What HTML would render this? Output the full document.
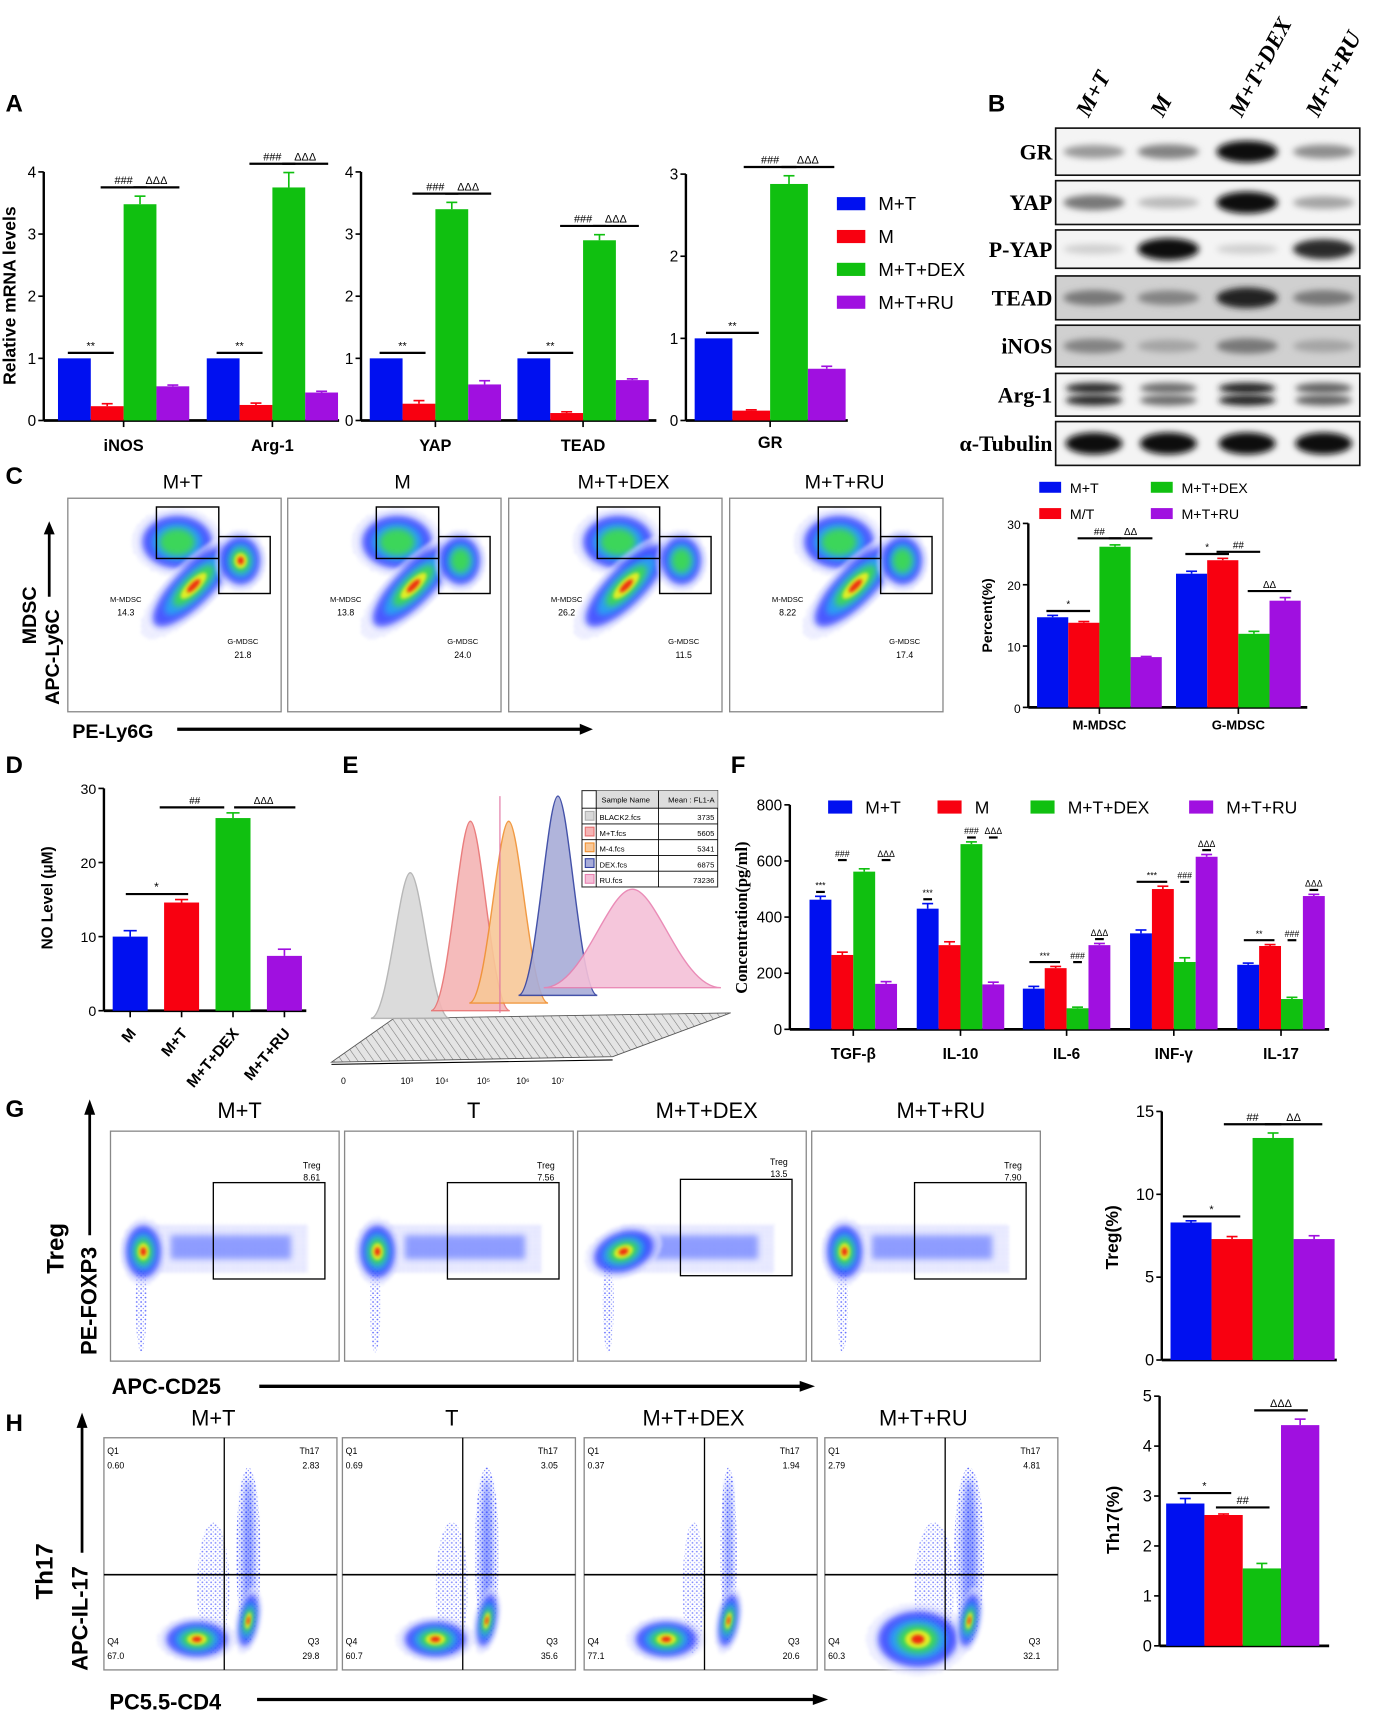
<!DOCTYPE html>
<html><head><meta charset="utf-8">
<style>
html,body{margin:0;padding:0;background:#fff;}
svg{display:block;font-family:"Liberation Sans",Arial,sans-serif;}
</style></head>
<body>
<svg id="fig" xmlns="http://www.w3.org/2000/svg" width="1374" height="1717" viewBox="0 0 1256 1568" preserveAspectRatio="none">
<defs>
<filter id="blur3" x="-50%" y="-50%" width="200%" height="200%"><feGaussianBlur stdDeviation="3"/></filter>
<filter id="blur6" x="-50%" y="-50%" width="200%" height="200%"><feGaussianBlur stdDeviation="6"/></filter>
<filter id="blur2" x="-50%" y="-50%" width="200%" height="200%"><feGaussianBlur stdDeviation="1.5"/></filter>
<pattern id="dots" width="4" height="4" patternUnits="userSpaceOnUse"><rect width="4" height="4" fill="#fff"/><circle cx="1" cy="1" r="0.8" fill="#2030ff"/><circle cx="3" cy="3" r="0.6" fill="#4050ff"/></pattern>
<pattern id="floor" width="6" height="6" patternUnits="userSpaceOnUse" patternTransform="rotate(-35)"><rect width="6" height="6" fill="#e4e4e4"/><line x1="0" y1="0" x2="0" y2="6" stroke="#777" stroke-width="1"/></pattern>
</defs>
<g id="root"></g>
</svg>
<script>
const NS='http://www.w3.org/2000/svg';
const root=document.getElementById('root');
const COL=['#0010f0','#f80010','#10c010','#a010e0'];

// ---------- Data ----------
const aCats1=['iNOS','Arg-1'];
const aVals1=[[1,0.23,3.48,0.55],[1,0.25,3.75,0.45]];
const aErr1=[[0,0.04,0.13,0.02],[0,0.03,0.24,0.02]];
const aCats2=['YAP','TEAD'];
const aVals2=[[1,0.27,3.4,0.58],[1,0.12,2.9,0.65]];
const aErr2=[[0,0.05,0.11,0.06],[0,0.02,0.09,0.02]];
const aCats3=['GR'];
const aVals3=[[1,0.12,2.88,0.63]];
const aErr3=[[0,0.01,0.1,0.03]];
const aTicks4=[0,1,2,3,4];
const aTicks3=[0,1,2,3];
const groupNames=['M+T','M','M+T+DEX','M+T+RU'];

const blotRows=['GR','YAP','P-YAP','TEAD','iNOS','Arg-1','α-Tubulin'];
const blotIntensity=[[0.35,0.45,1.0,0.4],[0.5,0.2,1.0,0.3],[0.1,1.0,0.1,0.85],[0.5,0.45,0.9,0.5],[0.45,0.3,0.5,0.3],[0.85,0.55,0.9,0.6],[1,1,1,1]];

const cCats=['M-MDSC','G-MDSC'];
const cVals=[[14.7,13.8,26.2,8.2],[21.8,24.0,12.0,17.4]];
const cErr=[[0.3,0.2,0.3,0.1],[0.4,0.3,0.4,0.5]];
const cTicks=[0,10,20,30];
const cFlowTitles=['M+T','M','M+T+DEX','M+T+RU'];
const cMM=['14.3','13.8','26.2','8.22'];
const cGM=['21.8','24.0','11.5','17.4'];

const dCats=['M','M+T','M+T+DEX','M+T+RU'];
const dVals=[10,14.6,26,7.4];
const dErr=[0.8,0.4,0.7,0.9];
const dTicks=[0,10,20,30];

const eNames=['BLACK2.fcs','M+T.fcs','M-4.fcs','DEX.fcs','RU.fcs'];
const eMeans=['3735','5605','5341','6875','73236'];
const ePeakX=[375,430,465,510,578];
const ePeakTop=[797,750,750,727,812];
const eColors=['#d8d8d8','#f4b4b4','#f8c898','#a8acd8','#f4c0d8'];
const eStroke=['#b0b0b0','#e87070','#f09030','#3040a0','#e880b0'];

const fCats=['TGF-β','IL-10','IL-6','INF-γ','IL-17'];
const fVals=[[462,265,562,162],[430,300,660,160],[145,218,75,300],[342,500,240,615],[230,297,108,475]];
const fErr=[[12,10,10,8],[18,12,8,8],[8,6,4,6],[12,10,15,8],[6,5,6,6]];
const fTicks=[0,200,400,600,800];

const gTitles=['M+T','T','M+T+DEX','M+T+RU'];
const gTreg=['8.61','7.56','13.5','7.90'];
const gVals=[8.3,7.3,13.4,7.3];
const gErr=[0.1,0.15,0.3,0.2];
const gTicks=[0,5,10,15];

const hTitles=['M+T','T','M+T+DEX','M+T+RU'];
const hQ1=['0.60','0.69','0.37','2.79'];
const hTh=['2.83','3.05','1.94','4.81'];
const hQ4=['67.0','60.7','77.1','60.3'];
const hQ3=['29.8','35.6','20.6','32.1'];
const hVals=[2.85,2.62,1.55,4.42];
const hErr=[0.1,0.02,0.1,0.12];
const hTicks=[0,1,2,3,4,5];

// ---------- helpers ----------
function mk(tag,attrs,parent){const e=document.createElementNS(NS,tag);for(const k in attrs)e.setAttribute(k,attrs[k]);(parent||root).appendChild(e);return e;}
function txt(s,x,y,opt,parent){opt=opt||{};const t=mk('text',{x:x,y:y,'font-size':opt.size||14,'text-anchor':opt.anchor||'middle','font-weight':opt.weight||'normal','fill':opt.fill||'#000'},parent);if(opt.family)t.setAttribute('font-family',opt.family);if(opt.style)t.setAttribute('font-style',opt.style);if(opt.rot!==undefined)t.setAttribute('transform','rotate('+opt.rot+' '+x+' '+y+')');t.textContent=s;return t;}
function line(x1,y1,x2,y2,w,parent,col){return mk('line',{x1:x1,y1:y1,x2:x2,y2:y2,stroke:col||'#000','stroke-width':w||1},parent);}

function barChart(o){
  const g=mk('g',{});
  
  
  const yS=v=>o.y0-v/o.max*(o.y0-o.yTop);
  line(o.ax,o.yTop,o.ax,o.y0,2.2,g);
  line(o.ax,o.y0,o.xEnd,o.y0,2.5,g);
  o.ticks.forEach(t=>{line(o.ax-5,yS(t),o.ax,yS(t),1.5,g);const lb=txt(String(t),o.ax-7,yS(t)+5,{size:o.tsize||14,anchor:'end'},g);});
  o.vals.forEach((gv,gi)=>{
    const x0=o.gx[gi];
    gv.forEach((v,bi)=>{
      const x=x0+bi*o.bw;
      const r=mk('rect',{x:x,y:yS(v),width:o.bw,height:o.y0-yS(v),fill:COL[bi]},g);
      
      
      const e=o.err?o.err[gi][bi]:0;
      if(e>0){const cx=x+o.bw/2;line(cx,yS(v),cx,yS(v+e),1.5,g,COL[bi]);line(cx-5,yS(v+e),cx+5,yS(v+e),1.5,g,COL[bi]);}
    });
    if(o.cats&&o.showCats!==false){const cx=x0+o.bw*2;line(cx,o.y0,cx,o.y0+6,1.5,g);const lb=txt(o.cats[gi],cx,o.labY,{size:o.lsize||15,weight:'bold'},g);}
    if(o.sig&&o.sig[gi]){o.sig[gi].forEach(s=>{
      const a=s[0],b=s[1];const top=Math.max(gv[a]+(o.err?o.err[gi][a]:0),gv[b]+(o.err?o.err[gi][b]:0),s[3]!==undefined?gv[s[3]]+(o.err?o.err[gi][s[3]]:0):0);
      const ly=yS(top)-(s[4]||6);const xa=x0+a*o.bw+o.bw*0.3,xb=x0+b*o.bw+o.bw*0.7;
      line(xa,ly,xb,ly,2,g);txt(s[2],(xa+xb)/2,ly-3,{size:o.ssize||10},g);
    });}
  });
  return {g:g,yS:yS};
}

function blob(cx,cy,rx,ry,rot,parent,core){
  const g=mk('g',{transform:'translate('+cx+' '+cy+') rotate('+rot+')'},parent);
  mk('ellipse',{cx:0,cy:0,rx:rx*1.3,ry:ry*1.3,fill:'url(#dots)',opacity:0.6,filter:'url(#blur2)'},g);
  mk('ellipse',{cx:0,cy:0,rx:rx,ry:ry,fill:'#1828ff',opacity:0.75,filter:'url(#blur3)'},g);
  mk('ellipse',{cx:0,cy:0,rx:rx*0.72,ry:ry*0.72,fill:'#20b0f0',opacity:0.8,filter:'url(#blur3)'},g);
  mk('ellipse',{cx:0,cy:0,rx:rx*0.5,ry:ry*0.5,fill:'#40e040',opacity:0.85,filter:'url(#blur3)'},g);
  if(core){mk('ellipse',{cx:0,cy:0,rx:rx*0.32,ry:ry*0.32,fill:'#f0f020',opacity:0.9,filter:'url(#blur2)'},g);
  mk('ellipse',{cx:0,cy:0,rx:rx*0.16,ry:ry*0.16,fill:'#f02010',opacity:0.95,filter:'url(#blur2)'},g);}
  return g;
}
function panelLetter(s,x,y){const t=txt(s,x,y,{size:22,weight:'bold',anchor:'start'});}

// ---------- Panel A ----------
panelLetter('A',5,102);
const sigA=[[[0,1,'**',undefined,5],[1,2,'###',undefined,8],[2,3,'ΔΔΔ',2,8]],[[0,1,'**',undefined,5],[1,2,'###',undefined,8],[2,3,'ΔΔΔ',2,8]]];
barChart({name:'chart-a-inos-arg1',ax:40,y0:384,yTop:157,max:4,ticks:aTicks4,xEnd:310,gx:[53,189],bw:30,vals:aVals1,err:aErr1,cats:aCats1,labY:412,sig:sigA});
barChart({name:'chart-a-yap-tead',ax:330,y0:384,yTop:157,max:4,ticks:aTicks4,xEnd:600,gx:[338,473],bw:30,vals:aVals2,err:aErr2,cats:aCats2,labY:412,sig:sigA});
barChart({name:'chart-a-gr',ax:627,y0:384,yTop:159,max:3,ticks:aTicks3,xEnd:775,gx:[635],bw:34.5,vals:aVals3,err:aErr3,cats:aCats3,labY:409,sig:[sigA[0]]});
{const t=txt('Relative mRNA levels',14,270,{size:16,weight:'bold',rot:-90});}
groupNames.forEach((n,i)=>{const y=180+i*30;const r=mk('rect',{x:765,y:y,width:26,height:12,fill:COL[i]});const t=txt(n,803,y+12,{size:17,anchor:'start'});});

// ---------- Panel B blots ----------
panelLetter('B',903,102);
const laneX=[1000,1068,1140,1210];
groupNames.forEach((n,i)=>{const t=txt(n,laneX[i]-5,108,{size:21,weight:'bold',style:'italic',family:'"Liberation Serif",serif',anchor:'start',rot:-62});});
const blotY=[[117,160],[165,205],[210,245],[252,292],[297,335],[341,380],[385,425]];
blotRows.forEach((r,ri)=>{
  const g=mk('g',{});
  
  
  const y1=blotY[ri][0],y2=blotY[ri][1],cy=(y1+y2)/2;
  const bg=(r==='TEAD'||r==='iNOS')?'#d0d0d0':'#f4f4f4';
  mk('rect',{x:965,y:y1,width:278,height:y2-y1,fill:bg,stroke:'#111','stroke-width':1.5},g);
  blotIntensity[ri].forEach((v,li)=>{
    const gray=Math.round(230-v*220);
    if(r==='Arg-1'){
      mk('ellipse',{cx:laneX[li],cy:cy-6,rx:26,ry:5,fill:'rgb('+gray+','+gray+','+gray+')',filter:'url(#blur3)'},g);
      mk('ellipse',{cx:laneX[li],cy:cy+5,rx:26,ry:5,fill:'rgb('+gray+','+gray+','+gray+')',filter:'url(#blur3)'},g);
    } else {
      mk('ellipse',{cx:laneX[li],cy:cy,rx:r==='α-Tubulin'?26:28,ry:r==='α-Tubulin'?10:(4+v*6),fill:'rgb('+gray+','+gray+','+gray+')',filter:'url(#blur3)'},g);
    }
  });
  txt(r,962,cy+7,{size:20,weight:'bold',family:'"Liberation Serif",serif',anchor:'end'},g);
});

// ---------- Panel C flow ----------
panelLetter('C',5,442);
const cBoxX=[62,263,465,667];
cBoxX.forEach((bx,i)=>{
  const g=mk('g',{});
  
  
  txt(cFlowTitles[i],bx+105,446,{size:18},g);
  mk('rect',{x:bx,y:455,width:195,height:195,fill:'#fff',stroke:'#888','stroke-width':1.2},g);
  const sh=(i===2)?-15:0;
  blob(bx+100,495,32,24,0,g,false);
  blob(bx+115+sh/2,535,50,17,-45,g,true);
  blob(bx+158,512,18,22,0,g,i===0);
  mk('rect',{x:bx+81,y:463,width:57,height:47,fill:'none',stroke:'#000','stroke-width':1.3},g);
  mk('rect',{x:bx+138,y:490,width:47,height:52,fill:'none',stroke:'#000','stroke-width':1.3},g);
  txt('M-MDSC',bx+53,550,{size:7},g);txt(cMM[i],bx+53,562,{size:8},g);
  txt('G-MDSC',bx+160,588,{size:7},g);txt(cGM[i],bx+160,601,{size:8},g);
});
line(45,545,45,486,2.5);mk('path',{d:'M40,488 L45,476 L50,488 Z',fill:'#000'});
txt('MDSC',33,562,{size:18,weight:'bold',rot:-90});
txt('APC-Ly6C',54,600,{size:18,weight:'bold',rot:-90});
txt('PE-Ly6G',66,674,{size:18,weight:'bold',anchor:'start'});
line(162,666,532,666,3);mk('path',{d:'M530,661 L542,666 L530,671 Z',fill:'#000'});

const cLegend=['M+T','M/T','M+T+DEX','M+T+RU'];
[[950,440],[950,464],[1052,440],[1052,464]].forEach((p,i)=>{const r=mk('rect',{x:p[0],y:p[1],width:20,height:10,fill:COL[i]});const t=txt(cLegend[i],p[0]+28,p[1]+10,{size:13,anchor:'start'});});
barChart({name:'chart-c-mdsc',ax:940,y0:646,yTop:478,max:30,ticks:cTicks,xEnd:1195,gx:[948,1075],bw:28.5,vals:cVals,err:cErr,cats:cCats,labY:666,lsize:12,tsize:11,ssize:9,sig:[[[0,1,'*',undefined,4],[1,2,'##',undefined,6],[2,3,'ΔΔ',2,6]],[[0,1,'*',undefined,4],[1,2,'##',undefined,6],[2,3,'ΔΔ',undefined,6]]]});
txt('Percent(%)',907,562,{size:13,weight:'bold',rot:-90});

// ---------- Panel D ----------
panelLetter('D',5,706);
{const r=barChart({name:'chart-d-no-level',ax:95,y0:923,yTop:720,max:30,ticks:dTicks,xEnd:280,gx:[103],bw:47,vals:[dVals],err:[dErr],showCats:false,tsize:13});
 r.g.querySelectorAll('rect').forEach(x=>x.remove());
 r.g.querySelectorAll('line').forEach((x,i)=>{if(i>5)x.remove();});
 dVals.forEach((v,i)=>{const x=103+i*47;const rr=mk('rect',{x:x,y:r.yS(v),width:32,height:923-r.yS(v),fill:COL[i]},r.g);
  const cx=x+16;line(cx,r.yS(v),cx,r.yS(v+dErr[i]),1.5,r.g,COL[i]);line(cx-6,r.yS(v+dErr[i]),cx+6,r.yS(v+dErr[i]),1.5,r.g,COL[i]);
  line(cx,923,cx,929,1.5,r.g);txt(dCats[i],cx+6,944,{size:14,weight:'bold',anchor:'end',rot:-50},r.g);});
 const sy1=r.yS(dVals[1]+dErr[1])-5;line(115,sy1,172,sy1,2,r.g);txt('*',143,sy1-3,{size:11},r.g);
 const sy2=r.yS(dVals[2]+dErr[2])-5;line(146,sy2,205,sy2,2,r.g);txt('##',178,sy2-3,{size:9},r.g);
 line(214,sy2,270,sy2,2,r.g);txt('ΔΔΔ',241,sy2-3,{size:9},r.g);
}
txt('NO Level (μM)',48,820,{size:14,weight:'bold',rot:-90});

// ---------- Panel E ----------
panelLetter('E',313,706);
{const g=mk('g',{});
 
 
 mk('polygon',{points:'303,970 560,965 668,925 360,930',fill:'url(#floor)',stroke:'#555','stroke-width':0.8},g);
 ePeakX.forEach((px,i)=>{
   const base=930-i*7, top=ePeakTop[i], hw=(i===4)?45:20;
   const d='M'+(px-hw*1.8)+','+base+' C'+(px-hw)+','+base+' '+(px-hw*0.5)+','+top+' '+px+','+top+' C'+(px+hw*0.5)+','+top+' '+(px+hw)+','+base+' '+(px+hw*1.8)+','+base+' Z';
   const p=mk('path',{d:d,fill:eColors[i],stroke:eStroke[i],'stroke-width':1.3,opacity:0.9},g);
   
   
 });
 line(457,727,457,925,1,g,'#e070a0');
 ['0','10³','10⁴','10⁵','10⁶','10⁷'].forEach((s,i)=>txt(s,[314,372,404,442,478,510][i],990,{size:8},g));
 line(303,972,560,968,1,g);
 const tx=532,ty=722;
 mk('rect',{x:tx,y:ty,width:124,height:88,fill:'#fff',stroke:'#333','stroke-width':1},g);
 mk('rect',{x:tx+13,y:ty,width:111,height:16,fill:'#ddd'},g);
 txt('Sample Name',tx+40,ty+11,{size:7},g);txt('Mean : FL1-A',tx+100,ty+11,{size:7},g);
 line(tx+13,ty,tx+13,ty+88,0.8,g);line(tx+70,ty,tx+70,ty+88,0.8,g);
 eNames.forEach((n,i)=>{const y=ty+16+i*14.4;line(tx,y,tx+124,y,0.8,g);
  mk('rect',{x:tx+3,y:y+3,width:8,height:8,fill:eColors[i],stroke:eStroke[i]},g);
  txt(n,tx+16,y+11,{size:7,anchor:'start'},g);txt(eMeans[i],tx+121,y+11,{size:7,anchor:'end'},g);});
}

// ---------- Panel F ----------
panelLetter('F',668,706);
barChart({name:'chart-f-cytokines',ax:722,y0:940,yTop:735,max:800,ticks:fTicks,xEnd:1215,gx:[740,838,935,1033,1131],bw:20,vals:fVals,err:fErr,cats:fCats,labY:967,lsize:14,tsize:14,ssize:8,
 sig:[[[0,0,'***',undefined,4],[1,1,'###',2,8],[3,3,'ΔΔΔ',2,8]],[[0,0,'***',undefined,4],[2,2,'###',undefined,4],[3,3,'ΔΔΔ',2,4]],[[0,1,'***',undefined,4],[2,2,'###',1,4],[3,3,'ΔΔΔ',undefined,4]],[[0,1,'***',undefined,4],[2,2,'###',1,4],[3,3,'ΔΔΔ',undefined,4]],[[0,1,'**',undefined,4],[2,2,'###',1,4],[3,3,'ΔΔΔ',undefined,4]]]});
groupNames.forEach((n,i)=>{const x=[757,857,942,1087][i];const r=mk('rect',{x:x,y:731,width:22,height:12,fill:COL[i]});const t=txt(n,x+34,743,{size:16,anchor:'start'});});
txt('Concentration(pg/ml)',683,838,{size:15,weight:'bold',family:'"Liberation Serif",serif',rot:-90});

// ---------- Panel G ----------
panelLetter('G',5,1020);
const gBoxX=[101,315,528,742];
gBoxX.forEach((bx,i)=>{
  const g=mk('g',{});
  
  
  txt(gTitles[i],bx+118,1021,{size:20},g);
  mk('rect',{x:bx,y:1033,width:209,height:210,fill:'#fff',stroke:'#888','stroke-width':1.2},g);
  mk('rect',{x:bx+40,y:1118,width:140,height:44,fill:'url(#dots)',opacity:0.8,filter:'url(#blur2)'},g);
  mk('rect',{x:bx+55,y:1128,width:110,height:22,fill:'#2040ff',opacity:0.45,filter:'url(#blur3)'},g);
  mk('ellipse',{cx:bx+28,cy:1190,rx:5,ry:45,fill:'url(#dots)',opacity:0.7},g);
  blob(bx+30+(i===2?12:0),1143,i===2?28:16,i===2?18:24,i===2?-20:0,g,true);
  const gy=(i===2)?1077:1080;
  mk('rect',{x:bx+94,y:gy,width:102,height:88,fill:'none',stroke:'#000','stroke-width':1.2},g);
  txt('Treg',bx+184,gy-13,{size:8},g);txt(gTreg[i],bx+184,gy-2,{size:8},g);
});
line(82,1128,82,1016,2.5);mk('path',{d:'M77,1018 L82,1004 L87,1018 Z',fill:'#000'});
txt('Treg',58,1140,{size:22,weight:'bold',rot:-90});
txt('PE-FOXP3',88,1188,{size:20,weight:'bold',rot:-90});
txt('APC-CD25',102,1273,{size:20,weight:'bold',anchor:'start'});
line(237,1266,733,1266,3);mk('path',{d:'M731,1261 L745,1266 L731,1271 Z',fill:'#000'});
barChart({name:'chart-g-treg',ax:1062,y0:1242,yTop:1015,max:15,ticks:gTicks,xEnd:1222,gx:[1070],bw:37.5,vals:[gVals],err:[gErr],showCats:false,tsize:15,ssize:10,sig:[[[0,1,'*',undefined,4],[1,2,'##',undefined,8],[2,3,'ΔΔ',2,8]]]});
txt('Treg(%)',1022,1130,{size:16,weight:'bold',rot:-90});

// ---------- Panel H ----------
panelLetter('H',5,1307);
const hBoxX=[95,313,534,754];
hBoxX.forEach((bx,i)=>{
  const g=mk('g',{});
  
  
  txt(hTitles[i],bx+100+(i===3?-10:0),1302,{size:20},g);
  mk('rect',{x:bx,y:1313,width:213,height:212,fill:'#fff',stroke:'#888','stroke-width':1.2},g);
  const vx=bx+110;
  const st=(i===2)?0.5:(i===3?1.2:0.9);
  mk('ellipse',{cx:vx+22,cy:1420,rx:9*st+3,ry:80,fill:'url(#dots)',opacity:0.8},g);
  mk('ellipse',{cx:vx+22,cy:1420,rx:6*st,ry:70,fill:'#2040ff',opacity:0.5,filter:'url(#blur3)'},g);
  mk('ellipse',{cx:vx-10,cy:1450,rx:12*st+4,ry:60,fill:'url(#dots)',opacity:0.6},g);
  blob(vx-25+(i===2?-10:0),1497,28*(i===3?1.3:1),16*(i===3?1.6:1),0,g,true);
  blob(vx+22,1480,8,24,10,g,true);
  line(bx,1438,bx+213,1438,1.5,g);
  line(vx,1313,vx,1525,1.2,g);
  txt('Q1',bx+3,1328,{size:8,anchor:'start'},g);txt(hQ1[i],bx+3,1341,{size:8,anchor:'start'},g);
  txt('Th17',bx+197,1328,{size:8,anchor:'end'},g);txt(hTh[i],bx+197,1341,{size:8,anchor:'end'},g);
  txt('Q4',bx+3,1502,{size:8,anchor:'start'},g);txt(hQ4[i],bx+3,1515,{size:8,anchor:'start'},g);
  txt('Q3',bx+197,1502,{size:8,anchor:'end'},g);txt(hQ3[i],bx+197,1515,{size:8,anchor:'end'},g);
});
line(75,1418,75,1302,2.5);mk('path',{d:'M70,1304 L75,1290 L80,1304 Z',fill:'#000'});
txt('Th17',48,1435,{size:22,weight:'bold',rot:-90});
txt('APC-IL-17',80,1478,{size:20,weight:'bold',rot:-90});
txt('PC5.5-CD4',100,1561,{size:20,weight:'bold',anchor:'start'});
line(235,1552,745,1552,3);mk('path',{d:'M743,1547 L757,1552 L743,1557 Z',fill:'#000'});
barChart({name:'chart-h-th17',ax:1060,y0:1503,yTop:1275,max:5,ticks:hTicks,xEnd:1215,gx:[1066],bw:35,vals:[hVals],err:[hErr],showCats:false,tsize:15,ssize:10,sig:[[[0,1,'*',undefined,5],[1,2,'##',undefined,6],[2,3,'ΔΔΔ',3,8]]]});
txt('Th17(%)',1023,1388,{size:16,weight:'bold',rot:-90});
</script>
</body></html>
